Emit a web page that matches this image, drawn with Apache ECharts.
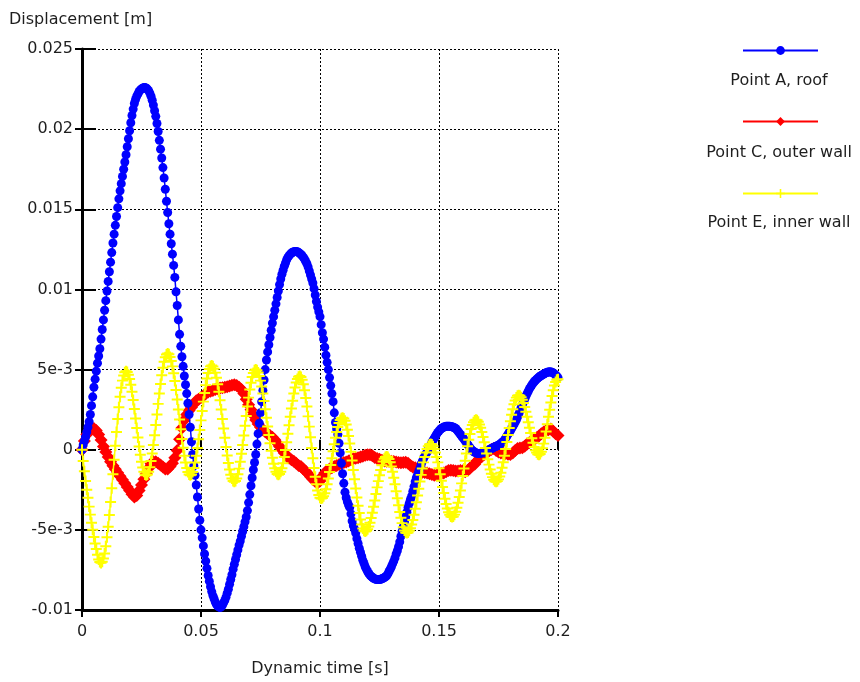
<!DOCTYPE html>
<html>
<head>
<meta charset="utf-8">
<script src="https://cdn.jsdelivr.net/npm/echarts@6/dist/echarts.min.js"></script>
<style>
  html, body { margin: 0; padding: 0; background: #ffffff; }
  #chart { width: 860px; height: 682px; }
</style>
</head>
<body>
<div id="chart"></div>
<script>
// ---- data (displacement in units of 1e-3 m) ----
const seriesNames = ['Point A, roof', 'Point C, outer wall', 'Point E, inner wall'];
const xTickLabels = ['0', '0.05', '0.1', '0.15', '0.2'];
const yTickLabels = ['-0.01', '-5e-3', '0', '5e-3', '0.01', '0.015', '0.02', '0.025'];

// samples start at t = 0 s and are uniformly spaced by these steps
const pointATimeStep = 0.0005;
const pointCTimeStep = 0.001;
const pointETimeStep = 0.0005;

const pointA = [
  0, 0.3, 0.55, 0.8, 1.1, 1.4, 1.75, 2.2, 2.75, 3.3,
  3.9, 4.4, 4.9, 5.4, 5.85, 6.3, 6.9, 7.5, 8.1, 8.7,
  9.3, 9.9, 10.5, 11.1, 11.7, 12.3, 12.9, 13.45, 14.0, 14.55,
  15.1, 15.65, 16.15, 16.6, 17.05, 17.5, 17.95, 18.4, 18.9, 19.4,
  19.9, 20.4, 20.85, 21.25, 21.6, 21.85, 22.05, 22.2, 22.35, 22.45,
  22.5, 22.55, 22.6, 22.6, 22.55, 22.5, 22.4, 22.25, 22.05, 21.8,
  21.5, 21.15, 20.8, 20.35, 19.85, 19.3, 18.75, 18.2, 17.6, 16.95,
  16.25, 15.5, 14.8, 14.1, 13.45, 12.85, 12.2, 11.5, 10.75, 9.85,
  9.0, 8.1, 7.2, 6.45, 5.8, 5.2, 4.6, 4.05, 3.5, 2.9,
  2.2, 1.4, 0.5, -0.3, -1.0, -1.6, -2.2, -2.95, -3.7, -4.4,
  -5.0, -5.5, -6.0, -6.5, -6.95, -7.4, -7.85, -8.2, -8.55, -8.85,
  -9.1, -9.3, -9.5, -9.65, -9.75, -9.8, -9.85, -9.8, -9.7, -9.55,
  -9.4, -9.2, -8.95, -8.7, -8.4, -8.1, -7.8, -7.45, -7.15, -6.85,
  -6.55, -6.25, -5.95, -5.7, -5.4, -5.1, -4.8, -4.5, -4.2, -3.8,
  -3.3, -2.8, -2.25, -1.75, -1.25, -0.8, -0.3, 0.35, 1.0, 1.65,
  2.3, 3.0, 3.7, 4.35, 5.0, 5.6, 6.1, 6.55, 7.0, 7.45,
  7.9, 8.3, 8.7, 9.1, 9.5, 9.9, 10.3, 10.65, 10.95, 11.2,
  11.45, 11.65, 11.85, 12.0, 12.1, 12.2, 12.27, 12.32, 12.35, 12.37,
  12.37, 12.35, 12.3, 12.25, 12.18, 12.1, 12.0, 11.9, 11.75, 11.6,
  11.4, 11.15, 10.9, 10.65, 10.4, 10.05, 9.65, 9.25, 8.9, 8.6,
  8.3, 7.8, 7.3, 6.9, 6.4, 5.9, 5.45, 5.0, 4.5, 4.0,
  3.5, 3.0, 2.3, 1.7, 1.3, 0.95, 0.4, -0.2, -0.85, -1.5,
  -2.1, -2.65, -3.0, -3.25, -3.45, -3.6, -4.0, -4.45, -4.75, -4.95,
  -5.2, -5.55, -5.85, -6.15, -6.4, -6.65, -6.9, -7.1, -7.3, -7.45,
  -7.6, -7.72, -7.82, -7.9, -7.96, -8.02, -8.06, -8.08, -8.1, -8.1,
  -8.1, -8.08, -8.05, -8.02, -7.98, -7.93, -7.87, -7.75, -7.6, -7.45,
  -7.3, -7.12, -6.95, -6.75, -6.5, -6.3, -6.05, -5.75, -5.4, -5.1,
  -4.8, -4.5, -4.2, -3.9, -3.6, -3.35, -3.1, -2.9, -2.6, -2.3,
  -2.0, -1.75, -1.55, -1.35, -1.15, -0.92, -0.72, -0.55, -0.4, -0.27,
  -0.15, 0.0, 0.15, 0.3, 0.45, 0.6, 0.72, 0.85, 0.97, 1.08,
  1.17, 1.25, 1.32, 1.37, 1.41, 1.44, 1.46, 1.47, 1.47, 1.46,
  1.45, 1.43, 1.4, 1.37, 1.32, 1.24, 1.15, 1.05, 0.95, 0.85,
  0.76, 0.66, 0.55, 0.45, 0.34, 0.24, 0.12, 0.03, -0.05, -0.11,
  -0.16, -0.2, -0.22, -0.23, -0.23, -0.22, -0.2, -0.18, -0.15, -0.12,
  -0.09, -0.05, -0.01, 0.03, 0.07, 0.11, 0.15, 0.18, 0.21, 0.24,
  0.28, 0.33, 0.39, 0.45, 0.52, 0.61, 0.72, 0.84, 0.97, 1.08,
  1.19, 1.32, 1.45, 1.58, 1.72, 1.86, 2.04, 2.22, 2.42, 2.62,
  2.8, 2.98, 3.15, 3.33, 3.5, 3.65, 3.8, 3.92, 4.04, 4.15,
  4.24, 4.32, 4.4, 4.47, 4.53, 4.58, 4.63, 4.68, 4.72, 4.76,
  4.8, 4.83, 4.85, 4.86, 4.85, 4.83, 4.79, 4.73, 4.66, 4.58,
  4.5
];

const pointC = [
  0, 0.55, 0.95, 1.2, 1.33, 1.33, 1.2, 0.95, 0.6, 0.2,
  -0.15, -0.45, -0.75, -1.0, -1.22, -1.43, -1.65, -1.87, -2.1, -2.33,
  -2.55, -2.78, -2.95, -2.85, -2.55, -2.2, -1.85, -1.5, -1.15, -0.88,
  -0.75, -0.75, -0.85, -0.95, -1.08, -1.2, -1.2, -1.05, -0.85, -0.5,
  -0.05, 0.65, 1.35, 1.85, 2.2, 2.45, 2.65, 2.85, 3.05, 3.15,
  3.25, 3.35, 3.5, 3.6, 3.65, 3.7, 3.75, 3.8, 3.85, 3.87,
  3.9, 3.93, 3.97, 4.02, 4.05, 4.0, 3.9, 3.75, 3.5, 3.15,
  2.8, 2.5, 2.15, 1.85, 1.6, 1.4, 1.25, 1.12, 1.0, 0.88,
  0.78, 0.62, 0.42, 0.2, 0.0, -0.2, -0.4, -0.52, -0.62, -0.72,
  -0.85, -0.98, -1.05, -1.2, -1.35, -1.5, -1.68, -1.85, -1.98, -2.07,
  -1.95, -1.65, -1.45, -1.3, -1.2, -1.12, -1.05, -0.98, -0.92, -0.85,
  -0.8, -0.76, -0.7, -0.63, -0.57, -0.53, -0.5, -0.45, -0.4, -0.35,
  -0.32, -0.32, -0.38, -0.48, -0.55, -0.6, -0.65, -0.7, -0.72, -0.72,
  -0.72, -0.73, -0.76, -0.8, -0.82, -0.8, -0.78, -0.85, -0.98, -1.08,
  -1.12, -1.2, -1.3, -1.4, -1.42, -1.45, -1.5, -1.55, -1.6, -1.58,
  -1.52, -1.48, -1.45, -1.38, -1.3, -1.28, -1.3, -1.33, -1.33, -1.3,
  -1.32, -1.38, -1.3, -1.15, -1.0, -0.9, -0.7, -0.55, -0.42, -0.3,
  -0.18, -0.08, 0.02, 0.08, -0.05, -0.15, -0.2, -0.22, -0.24, -0.28,
  -0.3, -0.2, -0.05, 0.08, 0.1, 0.12, 0.22, 0.35, 0.45, 0.52,
  0.65, 0.75, 0.85, 1.0, 1.1, 1.2, 1.25, 1.3, 1.15, 1.0,
  0.88
];

const pointE = [
  0, -0.7, -1.35, -1.95, -2.5, -3.0, -3.55, -4.05, -4.55, -5.0, -5.45, -5.85, -6.2, -6.55, -6.85, -7.0, -7.06,
  -6.99, -6.79, -6.47, -6.02, -5.46, -4.81, -4.07, -3.26, -2.41, -1.53, -0.63, 0.25, 1.10, 1.91, 2.65, 3.30, 3.86, 4.31, 4.63, 4.83, 4.9,
  4.85, 4.68, 4.41, 4.05, 3.61, 3.10, 2.54, 1.95, 1.35, 0.76, 0.20, -0.31, -0.75, -1.11, -1.38, -1.55, -1.6,
  -1.54, -1.37, -1.09, -0.71, -0.24, 0.30, 0.90, 1.54, 2.20, 2.86, 3.50, 4.10, 4.64, 5.11, 5.49, 5.77, 5.94, 6.0,
  5.95, 5.79, 5.54, 5.20, 4.77, 4.28, 3.73, 3.13, 2.51, 1.89, 1.27, 0.67, 0.12, -0.37, -0.80, -1.14, -1.39, -1.55, -1.6,
  -1.55, -1.39, -1.14, -0.80, -0.38, 0.11, 0.65, 1.23, 1.83, 2.42, 3.00, 3.54, 4.03, 4.45, 4.79, 5.04, 5.20, 5.25,
  5.20, 5.05, 4.81, 4.49, 4.08, 3.61, 3.08, 2.51, 1.92, 1.33, 0.74, 0.17, -0.36, -0.83, -1.24, -1.56, -1.80, -1.95, -2.0,
  -1.95, -1.79, -1.53, -1.18, -0.75, -0.25, 0.30, 0.89, 1.50, 2.11, 2.70, 3.25, 3.75, 4.18, 4.53, 4.79, 4.95, 5.0,
  4.96, 4.82, 4.60, 4.31, 3.94, 3.51, 3.04, 2.53, 1.99, 1.45, 0.92, 0.40, -0.07, -0.50, -0.87, -1.16, -1.38, -1.52, -1.56,
  -1.51, -1.37, -1.15, -0.84, -0.46, -0.02, 0.47, 0.99, 1.52, 2.06, 2.57, 3.06, 3.50, 3.88, 4.19, 4.41, 4.55, 4.6,
  4.54, 4.37, 4.09, 3.71, 3.23, 2.69, 2.08, 1.44, 0.78, 0.11, -0.53, -1.14, -1.68, -2.16, -2.54, -2.82, -2.99, -3.05,
  -3.01, -2.90, -2.71, -2.46, -2.15, -1.79, -1.39, -0.96, -0.53, -0.09, 0.34, 0.74, 1.10, 1.41, 1.66, 1.85, 1.96, 2.0,
  1.95, 1.81, 1.57, 1.25, 0.85, 0.39, -0.12, -0.68, -1.26, -1.84, -2.42, -2.98, -3.49, -3.95, -4.35, -4.67, -4.91, -5.05, -5.1,
  -5.06, -4.96, -4.79, -4.55, -4.26, -3.93, -3.56, -3.17, -2.76, -2.35, -1.96, -1.59, -1.26, -0.97, -0.73, -0.56, -0.46, -0.42,
  -0.46, -0.58, -0.78, -1.04, -1.37, -1.75, -2.16, -2.59, -3.03, -3.46, -3.88, -4.25, -4.58, -4.84, -5.04, -5.16, -5.2,
  -5.17, -5.06, -4.90, -4.67, -4.39, -4.06, -3.69, -3.28, -2.86, -2.43, -1.99, -1.57, -1.17, -0.79, -0.46, -0.18, 0.05, 0.21, 0.32, 0.35,
  0.32, 0.21, 0.05, -0.18, -0.46, -0.79, -1.15, -1.53, -1.93, -2.32, -2.70, -3.06, -3.39, -3.67, -3.90, -4.06, -4.17, -4.2,
  -4.16, -4.05, -3.87, -3.62, -3.31, -2.95, -2.54, -2.10, -1.64, -1.17, -0.69, -0.23, 0.21, 0.62, 0.98, 1.29, 1.54, 1.72, 1.83, 1.87,
  1.84, 1.74, 1.58, 1.37, 1.10, 0.80, 0.46, 0.11, -0.24, -0.59, -0.93, -1.23, -1.50, -1.71, -1.87, -1.97, -2.0,
  -1.96, -1.85, -1.67, -1.43, -1.13, -0.78, -0.38, 0.04, 0.48, 0.92, 1.36, 1.78, 2.18, 2.53, 2.83, 3.07, 3.25, 3.36, 3.4,
  3.37, 3.27, 3.12, 2.92, 2.66, 2.37, 2.05, 1.72, 1.37, 1.04, 0.72, 0.43, 0.17, -0.03, -0.18, -0.28, -0.31,
  -0.27, -0.13, 0.09, 0.38, 0.74, 1.14, 1.59, 2.05, 2.50, 2.95, 3.35, 3.71, 4.00, 4.22, 4.36, 4.4
];

// ---- build [time, value] pairs for the library ----
function toPairs(values, step) {
  return values.map((v, i) => [Math.round(i * step * 1e6) / 1e6, v]);
}

const FONT = 'DejaVu Sans';
const TEXT = '#1e1e1e';
const plusPath = 'path://M4.1,0 H5.9 V4.1 H10 V5.9 H5.9 V10 H4.1 V5.9 H0 V4.1 H4.1 Z';

const chart = echarts.init(document.getElementById('chart'), null, { renderer: 'canvas' });

const yMin = -10, yMax = 25, yStep = 5;

const option = {
  animation: false,
  backgroundColor: '#ffffff',
  title: {
    text: 'Displacement [m]',
    left: 4, top: 7,
    textStyle: { fontFamily: FONT, fontSize: 16, fontWeight: 'normal', color: TEXT }
  },
  grid: { left: 82, right: 302, top: 49, bottom: 72, containLabel: false },
  legend: [
    { data: [seriesNames[0]], left: 742, top: 45, padding: 0, itemWidth: 75, itemHeight: 11, formatter: () => '', selectedMode: false },
    { data: [seriesNames[1]], left: 742, top: 116, padding: 0, itemWidth: 75, itemHeight: 11, formatter: () => '', selectedMode: false },
    { data: [seriesNames[2]], left: 742, top: 188, padding: 0, itemWidth: 75, itemHeight: 11, formatter: () => '', selectedMode: false }
  ],
  graphic: [
    { type: 'text', x: 779, y: 81, style: { text: seriesNames[0], align: 'center', verticalAlign: 'middle', textAlign: 'center', textVerticalAlign: 'middle', font: '16px "DejaVu Sans"', fill: TEXT } },
    { type: 'text', x: 779, y: 153, style: { text: seriesNames[1], align: 'center', verticalAlign: 'middle', textAlign: 'center', textVerticalAlign: 'middle', font: '16px "DejaVu Sans"', fill: TEXT } },
    { type: 'text', x: 779, y: 223, style: { text: seriesNames[2], align: 'center', verticalAlign: 'middle', textAlign: 'center', textVerticalAlign: 'middle', font: '16px "DejaVu Sans"', fill: TEXT } }
  ],
  xAxis: [
    {
      type: 'value', min: 0, max: 0.2, interval: 0.05,
      name: 'Dynamic time [s]', nameLocation: 'middle', nameGap: 51,
      nameTextStyle: { fontFamily: FONT, fontSize: 16, color: TEXT },
      axisLine: { show: true, onZero: false, lineStyle: { color: '#000', width: 3 } },
      axisTick: { show: true, length: 7, lineStyle: { color: '#000', width: 2 } },
      axisLabel: { margin: 14, fontFamily: FONT, fontSize: 16, color: TEXT,
        formatter: (v) => xTickLabels[Math.round(v / 0.05)] },
      splitLine: { show: true, lineStyle: { color: '#000', width: 1, type: [2, 2] } }
    },
    {
      type: 'value', min: 0, max: 0.2, interval: 0.05, position: 'bottom',
      axisLine: { show: false }, axisLabel: { show: false }, splitLine: { show: false },
      axisTick: { show: true, inside: true, length: 10, lineStyle: { color: '#000', width: 2 } }
    }
  ],
  yAxis: [
    {
      type: 'value', min: yMin, max: yMax, interval: yStep,
      axisLine: { show: true, onZero: false, lineStyle: { color: '#000', width: 3 } },
      axisTick: { show: true, length: 7, lineStyle: { color: '#000', width: 2 } },
      axisLabel: { margin: 9, fontFamily: FONT, fontSize: 16, color: TEXT,
        formatter: (v) => yTickLabels[Math.round((v - yMin) / yStep)] },
      splitLine: { show: true, lineStyle: { color: '#000', width: 1, type: [2, 2] } }
    },
    {
      type: 'value', min: yMin, max: yMax, interval: yStep, position: 'left',
      axisLine: { show: false }, axisLabel: { show: false }, splitLine: { show: false },
      axisTick: { show: true, inside: true, length: 14, lineStyle: { color: '#000', width: 2 } }
    }
  ],
  series: [
    {
      name: seriesNames[0], type: 'line', z: 3,
      data: toPairs(pointA, pointATimeStep),
      symbol: 'circle', symbolSize: 9, showSymbol: true,
      lineStyle: { color: '#0000ff', width: 1.5 },
      itemStyle: { color: '#0000ff' }
    },
    {
      name: seriesNames[1], type: 'line', z: 2,
      data: toPairs(pointC, pointCTimeStep),
      symbol: 'diamond', symbolSize: 13, showSymbol: true,
      lineStyle: { color: '#ff0000', width: 1.5 },
      itemStyle: { color: '#ff0000' }
    },
    {
      name: seriesNames[2], type: 'line', z: 4,
      data: toPairs(pointE, pointETimeStep),
      symbol: plusPath, symbolSize: 11, showSymbol: true,
      lineStyle: { color: '#ffff00', width: 1.5 },
      itemStyle: { color: '#ffff00' }
    }
  ]
};

chart.setOption(option);
</script>
</body>
</html>
